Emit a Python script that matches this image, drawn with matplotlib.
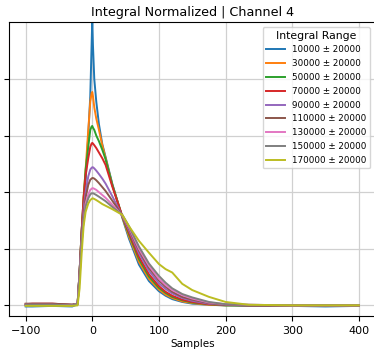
import matplotlib
matplotlib.use("Agg")
from matplotlib import pyplot as plt
import numpy as np

samples = [-100, -90, -60, -30, -22, -19, -16, -13, -10, -6, -3, -1, 0, 1, 3, 6, 10, 15, 20, 30,
           45, 55, 70, 85, 100, 110, 120, 135, 150, 175, 200, 235, 300, 350, 400]

labels = ["10000 ± 20000", "30000 ± 20000", "50000 ± 20000", "70000 ± 20000",
          "90000 ± 20000", "110000 ± 20000", "130000 ± 20000", "150000 ± 20000",
          "170000 ± 20000"]

blue = [-0.0002, -0.0002, -0.0001, -0.0002, 0.0002, 0.006, 0.013, 0.018, 0.022, 0.030, 0.037, 0.046, 0.0505, 0.046, 0.040, 0.036, 0.032, 0.0285, 0.0262, 0.0215,
        0.0155, 0.0118, 0.0072, 0.0043, 0.0025, 0.0017, 0.0011, 0.0006, 0.0003, 0.0001, 0.0, -0.0001, -0.0001, -0.0002, -0.0001]
orange = [0.0001, 0.0001, 0.0001, 0.0, 0.0003, 0.006, 0.013, 0.019, 0.024, 0.031, 0.036, 0.0375, 0.0377, 0.037, 0.035, 0.033, 0.031, 0.0283, 0.026, 0.0213,
          0.0156, 0.0122, 0.0077, 0.0047, 0.0028, 0.0019, 0.0013, 0.0007, 0.0004, 0.0001, 0.0, 0.0, 0.0, 0.0, 0.0]
green = [0.0001, 0.0002, 0.0002, 0.0001, 0.0003, 0.006, 0.013, 0.019, 0.024, 0.028, 0.031, 0.0316, 0.0317, 0.0314, 0.031, 0.030, 0.029, 0.0275, 0.0258, 0.0213,
         0.0157, 0.0126, 0.0082, 0.0051, 0.0031, 0.0022, 0.0015, 0.0009, 0.0005, 0.0002, 0.0, 0.0, 0.0, 0.0, 0.0]
red = [0.0002, 0.0003, 0.0003, 0.0001, 0.0003, 0.006, 0.013, 0.019, 0.023, 0.026, 0.028, 0.0286, 0.0287, 0.0286, 0.0283, 0.0278, 0.027, 0.026, 0.0248, 0.021,
       0.0158, 0.0129, 0.0086, 0.0055, 0.0034, 0.0024, 0.0017, 0.0010, 0.0006, 0.0002, 0.0001, 0.0, 0.0, 0.0, 0.0]
purple = [0.0001, 0.0002, 0.0002, 0.0001, 0.0003, 0.006, 0.012, 0.017, 0.020, 0.0228, 0.0240, 0.0243, 0.0244, 0.0244, 0.0242, 0.0238, 0.0232, 0.0224, 0.0215, 0.0193,
          0.0158, 0.0133, 0.0092, 0.0061, 0.0039, 0.0029, 0.0021, 0.0013, 0.0008, 0.0003, 0.0001, 0.0, 0.0, 0.0, 0.0]
brown = [0.0003, 0.0003, 0.0003, 0.0001, 0.0003, 0.006, 0.012, 0.016, 0.019, 0.0213, 0.0222, 0.0224, 0.0225, 0.0225, 0.0224, 0.0221, 0.0216, 0.0209, 0.0202, 0.0185,
         0.0159, 0.0136, 0.0097, 0.0066, 0.0044, 0.0033, 0.0024, 0.0015, 0.0010, 0.0004, 0.0001, 0.0, 0.0, 0.0, 0.0]
pink = [0.0001, 0.0001, 0.0001, 0.0, 0.0003, 0.005, 0.011, 0.015, 0.018, 0.0196, 0.0204, 0.0206, 0.0207, 0.0207, 0.0206, 0.0204, 0.0200, 0.0195, 0.0190, 0.0178,
        0.0159, 0.0138, 0.0100, 0.0070, 0.0047, 0.0036, 0.0027, 0.0018, 0.0012, 0.0005, 0.0002, 0.0001, 0.0, 0.0, 0.0]
grey = [0.0001, 0.0001, 0.0001, 0.0, 0.0003, 0.005, 0.011, 0.015, 0.0175, 0.0189, 0.0196, 0.0198, 0.0198, 0.0198, 0.0197, 0.0195, 0.0192, 0.0188, 0.0184, 0.0174,
        0.0160, 0.0140, 0.0104, 0.0074, 0.0052, 0.0040, 0.0030, 0.0020, 0.0014, 0.0006, 0.0002, 0.0001, 0.0, 0.0, 0.0]
olive = [-0.0001, -0.0001, -0.0001, -0.0001, 0.0, 0.003, 0.009, 0.014, 0.0165, 0.0180, 0.0186, 0.0188, 0.0189, 0.0189, 0.0188, 0.0186, 0.0183, 0.0179, 0.0176, 0.0170,
         0.0160, 0.0140, 0.0114, 0.0093, 0.0073, 0.0064, 0.0058, 0.0038, 0.0027, 0.0015, 0.0006, 0.0001, 0.0, 0.0, 0.0]

series = [blue, orange, green, red, purple, brown, pink, grey, olive]

fig = plt.figure(figsize=(3.74, 3.52), dpi=100)
ax = fig.add_axes([0.024, 0.102, 0.98, 0.836])

for vals, lab in zip(series, labels):
    ax.plot(samples, vals, lw=1.4, label=lab)

ax.set_xlim(-125, 425)
ax.set_ylim(-0.0019, 0.0501)
ax.set_xticks([-100, 0, 100, 200, 300, 400])
ax.set_yticks([0, 0.01, 0.02, 0.03, 0.04])
ax.tick_params(labelleft=False, labelsize=8)
ax.grid(True, color="#d0d0d0", lw=0.9)
ax.set_xlabel("Samples", fontsize=7.5, labelpad=2)
ax.set_title("Integral Normalized | Channel 4", fontsize=9.2, pad=4)
leg = ax.legend(title="Integral Range", loc="upper right", fontsize=6.3, title_fontsize=7.8,
                handlelength=2.2, labelspacing=0.55, borderaxespad=0.6)

fig.savefig("out.png", dpi=100)
